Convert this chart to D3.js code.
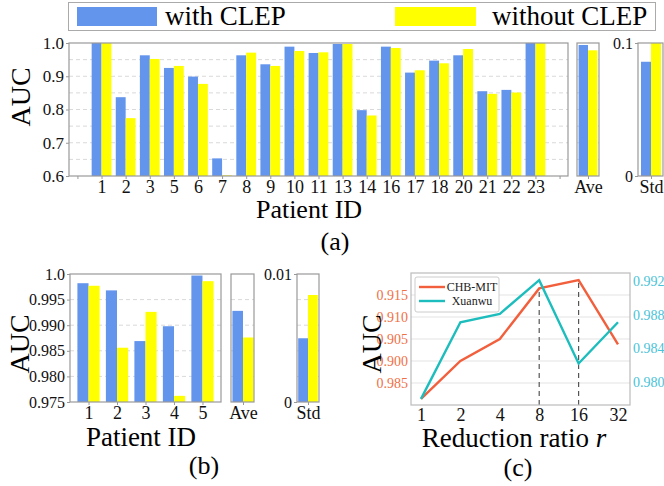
<!DOCTYPE html>
<html>
<head>
<meta charset="utf-8">
<script src="https://cdn.jsdelivr.net/npm/d3@7"></script>
<style>
  body { margin: 0; background: #fff; }
</style>
</head>
<body>
<svg id="fig" width="664" height="486" font-family="'Liberation Serif', 'DejaVu Serif', serif"></svg>
<script>
const BLUE = "#6495ed", YELLOW = "#ffff00";
const ORANGE = "#f25f3c", CYAN = "#1dbdbd";
const SERIF = "'Liberation Serif', 'DejaVu Serif', serif";

// (a) CHB-MIT, per patient
const patientsA = ["1","2","3","5","6","7","8","9","10","11","13","14","16","17","18","20","21","22","23"];
const withA    = [1.0,0.837,0.963,0.925,0.899,0.653,0.963,0.936,0.989,0.970,0.997,0.798,0.989,0.911,0.947,0.963,0.855,0.859,1.0];
const withoutA = [1.0,0.774,0.952,0.931,0.877,0.602,0.971,0.931,0.976,0.972,0.997,0.782,0.985,0.918,0.939,0.982,0.847,0.851,1.0];
const aveA = [0.994, 0.978];
const stdA = [0.0859, 0.1];
const yTicksA = [0.6, 0.7, 0.8, 0.9, 1.0];

// (b) Xuanwu, per patient
const patientsB = ["1","2","3","4","5"];
const withB    = [0.9982,0.9968,0.9869,0.9898,0.9997];
const withoutB = [0.9977,0.9856,0.9926,0.9762,0.9986];
const aveB = [0.9928, 0.9876];
const stdB = [0.00498, 0.00836];
const yTicksB = [0.975, 0.980, 0.985, 0.990, 0.995, 1.0];
const yTickLabelsB = ["0.975","0.980","0.985","0.990","0.995","1.0"];

// (c) reduction ratio
const ratios = [1, 2, 4, 8, 16, 32];
const chbmit = [0.8914, 0.900, 0.905, 0.9165, 0.9184, 0.9038];
const xuanwu = [0.9780, 0.9871, 0.9881, 0.9921, 0.9822, 0.9871];
const leftTicksC = [0.895, 0.900, 0.905, 0.910, 0.915];
const leftTickLabelsC = ["0.985","0.900","0.905","0.910","0.915"];
const rightTicksC = [0.980, 0.984, 0.988, 0.992];

const svg = d3.select("#fig");

// d3 axes put sans-serif on their group; put the serif face back
function styleAxis(ax, size, color) {
  ax.attr("font-family", SERIF);
  ax.select(".domain").remove();
  ax.selectAll("line").attr("stroke", "#999");
  ax.selectAll("text").attr("font-size", size).attr("fill", color).attr("font-family", SERIF);
}

// grouped bar panel: pairs of bars centred on positions
function barPanel(o) {
  const g = svg.append("g");
  const x = d3.scaleLinear().domain(o.xDomain).range([o.x0, o.x1]);
  const y = d3.scaleLinear().domain(o.yDomain).range([o.y1, o.y0]);

  g.append("rect").attr("x", o.x0).attr("y", o.y0)
    .attr("width", o.x1 - o.x0).attr("height", o.y1 - o.y0).attr("fill", "#fff");

  g.append("g").selectAll("line").data(o.grid).join("line")
    .attr("x1", o.x0).attr("x2", o.x1)
    .attr("y1", d => y(d)).attr("y2", d => y(d))
    .attr("stroke", "#d9d9d9").attr("stroke-dasharray", "4,3");

  const rows = o.pos.map((p, i) => ({ p: p, a: o.with[i], b: o.without[i] }));
  const w = o.barW;
  const base = o.yDomain[0];
  g.append("g").selectAll("rect").data(rows).join("rect")
    .attr("x", d => x(d.p - w)).attr("width", d => x(d.p) - x(d.p - w))
    .attr("y", d => y(d.a)).attr("height", d => y(base) - y(d.a))
    .attr("fill", BLUE);
  g.append("g").selectAll("rect").data(rows).join("rect")
    .attr("x", d => x(d.p)).attr("width", d => x(d.p + w) - x(d.p))
    .attr("y", d => y(d.b)).attr("height", d => y(base) - y(Math.max(d.b, base)))
    .attr("fill", YELLOW);

  g.append("rect").attr("x", o.x0).attr("y", o.y0)
    .attr("width", o.x1 - o.x0).attr("height", o.y1 - o.y0)
    .attr("fill", "none").attr("stroke", "#999").attr("stroke-width", 1.2);

  const xa = g.append("g").attr("transform", `translate(0,${o.y1})`)
    .call(d3.axisBottom(x).tickValues(o.tickPos).tickFormat(o.tickFmt).tickSize(3).tickPadding(1));
  styleAxis(xa, o.xFont, "#111");

  if (o.yTicks) {
    const ya = g.append("g").attr("transform", `translate(${o.x0},0)`)
      .call(d3.axisLeft(y).tickValues(o.yTicks).tickFormat(o.yFmt).tickSize(3).tickPadding(2));
    styleAxis(ya, o.yFont, "#111");
  }
  return g;
}

function label(x, y, size, txt) {
  return svg.append("text").attr("x", x).attr("y", y).attr("text-anchor", "middle")
    .attr("font-family", SERIF).attr("font-size", size).text(txt);
}
function vlabel(x, y, size, txt) {
  return svg.append("text").attr("transform", `translate(${x},${y}) rotate(-90)`)
    .attr("text-anchor", "middle").attr("font-family", SERIF).attr("font-size", size).text(txt);
}

// ---------- legend (top) ----------
svg.append("rect").attr("x", 68.5).attr("y", 2.5).attr("width", 587).attr("height", 28)
  .attr("fill", "#fff").attr("stroke", "#aaa");
svg.append("rect").attr("x", 77).attr("y", 7).attr("width", 80).attr("height", 19).attr("fill", BLUE);
svg.append("text").attr("x", 165).attr("y", 25).attr("font-family", SERIF).attr("font-size", 27).text("with CLEP");
svg.append("rect").attr("x", 395).attr("y", 7).attr("width", 81).attr("height", 19).attr("fill", YELLOW);
svg.append("text").attr("x", 492).attr("y", 25).attr("font-family", SERIF).attr("font-size", 27).text("without CLEP");

// ---------- (a) ----------
const idxA = patientsA.map((d, i) => i + 1);
barPanel({
  x0: 69, x1: 568, y0: 43, y1: 176,
  xDomain: [-0.35, 20.35], yDomain: [0.6, 1.0],
  grid: d3.range(0.65, 1.0, 0.05),
  pos: idxA, with: withA, without: withoutA, barW: 0.41,
  tickPos: d3.range(0, 21), tickFmt: d => (d >= 1 && d <= 19) ? patientsA[d - 1] : "",
  xFont: 18, yTicks: yTicksA, yFmt: d3.format(".1f"), yFont: 17
});
barPanel({
  x0: 577, x1: 599, y0: 43, y1: 176,
  xDomain: [-0.55, 0.55], yDomain: [0.6, 1.0],
  grid: d3.range(0.65, 1.0, 0.05),
  pos: [0], with: [aveA[0]], without: [aveA[1]], barW: 0.47,
  tickPos: [0], tickFmt: () => "Ave", xFont: 18
});
barPanel({
  x0: 638, x1: 663, y0: 43, y1: 176,
  xDomain: [-0.65, 0.6], yDomain: [0, 0.1],
  grid: [],
  pos: [0], with: [stdA[0]], without: [stdA[1]], barW: 0.5,
  tickPos: [0], tickFmt: () => "Std", xFont: 18,
  yTicks: [0, 0.1], yFmt: d => d === 0 ? "0" : "0.1", yFont: 16
});
vlabel(30, 97, 28, "AUC");
label(309, 218, 26, "Patient ID");
label(335, 250, 26, "(a)");

// ---------- (b) ----------
barPanel({
  x0: 70, x1: 221, y0: 274, y1: 402,
  xDomain: [0.35, 5.65], yDomain: [0.975, 1.0],
  grid: [0.98, 0.985, 0.99, 0.995],
  pos: [1, 2, 3, 4, 5], with: withB, without: withoutB, barW: 0.39,
  tickPos: [1, 2, 3, 4, 5], tickFmt: d => patientsB[d - 1], xFont: 18,
  yTicks: yTicksB, yFmt: (d, i) => yTickLabelsB[i], yFont: 16
});
barPanel({
  x0: 231, x1: 254, y0: 274, y1: 402,
  xDomain: [-0.545, 0.5], yDomain: [0.975, 1.0],
  grid: [0.98, 0.985, 0.99, 0.995],
  pos: [0], with: [aveB[0]], without: [aveB[1]], barW: 0.48,
  tickPos: [0], tickFmt: () => "Ave", xFont: 18
});
barPanel({
  x0: 297, x1: 319, y0: 274, y1: 402,
  xDomain: [-0.55, 0.55], yDomain: [0, 0.01],
  grid: [0.002, 0.004, 0.006, 0.008],
  pos: [0], with: [stdB[0]], without: [stdB[1]], barW: 0.49,
  tickPos: [0], tickFmt: () => "Std", xFont: 18,
  yTicks: [0, 0.01], yFmt: d => d === 0 ? "0" : "0.01", yFont: 16
});
vlabel(29, 344, 28, "AUC");
label(141, 446, 27, "Patient ID");
label(204, 474, 26, "(b)");

// ---------- (c) ----------
const gc = svg.append("g");
const cx0 = 411, cx1 = 630, cy0 = 273, cy1 = 405;
const xC = d3.scalePoint().domain(ratios).range([421, 618]);
const yL = d3.scaleLinear().domain([0.890, 0.920]).range([cy1, cy0]);
const yR = d3.scaleLinear().domain([0.97727, 0.99295]).range([cy1, cy0]);

gc.append("g").selectAll("line").data(leftTicksC).join("line")
  .attr("x1", cx0).attr("x2", cx1).attr("y1", d => yL(d)).attr("y2", d => yL(d))
  .attr("stroke", "#e3e3e3").attr("stroke-width", 1);

gc.append("g").selectAll("line").data([8, 16]).join("line")
  .attr("x1", d => xC(d)).attr("x2", d => xC(d))
  .attr("y1", cy1).attr("y2", d => yL(chbmit[ratios.indexOf(d)]))
  .attr("stroke", "#555").attr("stroke-width", 1.2).attr("stroke-dasharray", "5,4");

const lineL = d3.line().x((d, i) => xC(ratios[i])).y(d => yL(d));
const lineR = d3.line().x((d, i) => xC(ratios[i])).y(d => yR(d));
gc.append("path").datum(chbmit).attr("d", lineL)
  .attr("fill", "none").attr("stroke", ORANGE).attr("stroke-width", 2.4);
gc.append("path").datum(xuanwu).attr("d", lineR)
  .attr("fill", "none").attr("stroke", CYAN).attr("stroke-width", 2.4);

gc.append("rect").attr("x", cx0).attr("y", cy0).attr("width", cx1 - cx0).attr("height", cy1 - cy0)
  .attr("fill", "none").attr("stroke", "#bbb").attr("stroke-width", 1.2);

const axL = gc.append("g").attr("transform", `translate(${cx0},0)`)
  .call(d3.axisLeft(yL).tickValues(leftTicksC).tickFormat((d, i) => leftTickLabelsC[i]).tickSize(0).tickPadding(3));
styleAxis(axL, 14, "#f07046");

const axR = gc.append("g").attr("transform", `translate(${cx1},0)`)
  .call(d3.axisRight(yR).tickValues(rightTicksC).tickFormat(d3.format(".3f")).tickSize(0).tickPadding(3));
styleAxis(axR, 14, "#48c3d8");

const axB = gc.append("g").attr("transform", `translate(0,${cy1})`)
  .call(d3.axisBottom(xC).tickSize(0).tickPadding(3));
styleAxis(axB, 18, "#111");

// legend (c)
const lg = gc.append("g");
lg.append("rect").attr("x", 415).attr("y", 277).attr("width", 84).attr("height", 35)
  .attr("fill", "#fff").attr("stroke", "#ccc").attr("rx", 2);
const legItems = [["CHB-MIT", ORANGE, 287], ["Xuanwu", CYAN, 301]];
legItems.forEach(d => {
  lg.append("line").attr("x1", 419).attr("x2", 445).attr("y1", d[2]).attr("y2", d[2])
    .attr("stroke", d[1]).attr("stroke-width", 2.4);
  lg.append("text").attr("x", 472).attr("y", d[2] + 4).attr("text-anchor", "middle")
    .attr("font-family", SERIF).attr("font-size", 12).attr("fill", "#222").text(d[0]);
});

vlabel(381, 344, 28, "AUC");
const xl = svg.append("text").attr("x", 514).attr("y", 447).attr("text-anchor", "middle")
  .attr("font-family", SERIF).attr("font-size", 27);
xl.append("tspan").text("Reduction ratio ");
xl.append("tspan").attr("font-style", "italic").text("r");
label(518, 476, 26, "(c)");
</script>
</body>
</html>
